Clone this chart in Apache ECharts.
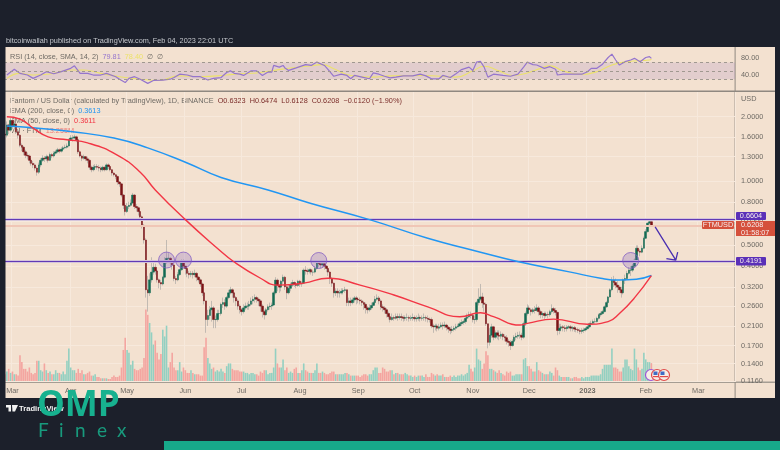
<!DOCTYPE html>
<html><head><meta charset="utf-8">
<style>html,body{margin:0;padding:0;background:#1c202b}#c{width:780px;height:450px}</style>
<script src="https://cdn.jsdelivr.net/npm/echarts@6/dist/echarts.min.js"></script></head>
<body><div id="c"></div>
<script>
const dayCount = 389;
const startDate = '2022-02-25';
const monthIdx = [4,35,65,96,126,157,188,218,249,279,310,341,369];
const monthLabels = ['Mar','Apr','May','Jun','Jul','Aug','Sep','Oct','Nov','Dec','2023','Feb','Mar'];
const priceTicks = [2,1.6,1.3,1,0.8,0.65,0.5,0.4,0.32,0.26,0.21,0.17,0.14,0.116];
const rsiTicks = [40,80];
const firstOpen = 1.66;
const closes = [1.64,1.83,1.73,1.92,1.82,1.85,1.70,1.64,1.47,1.44,
1.37,1.32,1.31,1.25,1.21,1.19,1.15,1.10,1.19,1.25,
1.28,1.27,1.30,1.25,1.33,1.31,1.35,1.37,1.40,1.38,
1.41,1.43,1.44,1.46,1.56,1.59,1.59,1.61,1.56,1.37,
1.31,1.28,1.30,1.27,1.25,1.16,1.13,1.16,1.17,1.16,
1.15,1.13,1.16,1.13,1.19,1.17,1.13,1.09,1.07,1.05,
.99,.97,.86,.77,.72,.76,.77,.79,.86,.76,
.75,.72,.68,.62,.53,.31,.30,.345,.375,.395,
.38,.345,.335,.33,.355,.42,.435,.435,.415,.405,
.35,.345,.365,.385,.42,.40,.39,.37,.365,.37,
.365,.37,.355,.345,.33,.30,.275,.225,.235,.25,
.255,.225,.225,.24,.24,.265,.27,.26,.285,.30,
.31,.30,.285,.275,.26,.25,.245,.255,.26,.26,
.265,.275,.28,.285,.28,.275,.26,.245,.237,.25,
.258,.26,.263,.30,.344,.325,.319,.34,.355,.32,
.30,.315,.326,.335,.33,.325,.34,.33,.333,.383,
.38,.378,.385,.375,.375,.39,.414,.41,.405,.41,
.40,.39,.375,.35,.333,.30,.305,.30,.30,.305,
.308,.31,.27,.275,.27,.278,.284,.28,.278,.275,
.27,.265,.255,.25,.255,.262,.27,.28,.284,.275,
.258,.255,.25,.24,.232,.225,.23,.228,.232,.23,
.232,.23,.228,.23,.23,.228,.229,.23,.227,.228,
.23,.228,.229,.23,.228,.226,.225,.21,.208,.21,
.205,.208,.212,.21,.212,.207,.203,.20,.202,.205,
.208,.21,.215,.218,.22,.228,.232,.237,.235,.225,
.225,.27,.28,.287,.269,.265,.215,.176,.19,.208,
.186,.195,.19,.188,.192,.187,.185,.178,.176,.17,
.178,.186,.188,.19,.19,.186,.215,.24,.255,.25,
.245,.25,.248,.255,.245,.237,.24,.235,.238,.237,
.245,.253,.248,.243,.20,.205,.208,.206,.204,.207,
.208,.205,.206,.203,.202,.20,.198,.20,.201,.204,
.208,.215,.216,.22,.22,.228,.237,.24,.245,.258,
.27,.287,.31,.344,.335,.326,.319,.31,.30,.344,
.35,.37,.383,.383,.40,.427,.485,.47,.465,.485,
.54,.58,.635,.645,.6208];
const highs = [1.72,1.90,1.85,1.97,1.95,1.92,1.86,1.72,1.66,1.50,
1.46,1.40,1.36,1.33,1.28,1.24,1.21,1.17,1.22,1.28,
1.32,1.31,1.33,1.32,1.36,1.35,1.38,1.40,1.43,1.42,
1.44,1.46,1.48,1.50,1.58,1.64,1.64,1.65,1.63,1.57,
1.39,1.33,1.33,1.31,1.30,1.27,1.18,1.19,1.20,1.20,
1.19,1.17,1.18,1.17,1.21,1.21,1.18,1.14,1.10,1.08,
1.06,1.00,.98,.87,.79,.79,.80,.82,.88,.87,
.78,.76,.73,.69,.63,.54,.36,.37,.44,.42,
.41,.385,.35,.345,.36,.44,.53,.46,.44,.42,
.41,.36,.375,.39,.43,.43,.40,.39,.38,.38,
.38,.385,.375,.36,.35,.335,.305,.275,.25,.26,
.275,.26,.235,.25,.25,.27,.285,.28,.29,.31,
.32,.315,.30,.29,.28,.265,.255,.265,.27,.27,
.275,.285,.29,.295,.29,.285,.28,.265,.25,.255,
.265,.27,.27,.305,.355,.35,.33,.345,.365,.36,
.325,.325,.335,.345,.34,.335,.345,.345,.34,.39,
.40,.39,.39,.39,.385,.40,.425,.425,.42,.42,
.42,.405,.395,.38,.355,.335,.315,.315,.31,.315,
.315,.32,.31,.285,.285,.285,.29,.29,.285,.285,
.28,.275,.27,.26,.265,.27,.275,.29,.295,.29,
.28,.265,.26,.255,.245,.24,.24,.235,.24,.24,
.24,.24,.235,.235,.24,.235,.235,.24,.235,.235,
.24,.235,.235,.24,.235,.235,.23,.23,.215,.215,
.215,.215,.218,.218,.22,.215,.21,.208,.21,.21,
.215,.215,.22,.225,.225,.235,.24,.245,.245,.24,
.235,.275,.315,.33,.30,.28,.27,.215,.205,.215,
.21,.20,.20,.20,.198,.195,.192,.19,.182,.18,
.182,.19,.195,.197,.198,.195,.22,.245,.265,.262,
.255,.255,.26,.265,.26,.25,.245,.245,.245,.245,
.25,.265,.258,.255,.245,.215,.215,.212,.212,.212,
.212,.212,.21,.21,.208,.206,.204,.205,.206,.208,
.213,.218,.222,.225,.228,.232,.24,.245,.25,.262,
.275,.29,.315,.355,.36,.35,.34,.325,.32,.35,
.365,.38,.395,.40,.41,.435,.50,.50,.48,.50,
.55,.595,.64,.67,.6474];
const lows = [1.55,1.60,1.66,1.70,1.75,1.75,1.66,1.58,1.44,1.38,
1.32,1.28,1.26,1.21,1.18,1.15,1.12,1.06,1.08,1.16,
1.23,1.23,1.24,1.22,1.24,1.28,1.29,1.33,1.35,1.35,
1.36,1.39,1.41,1.42,1.44,1.54,1.53,1.57,1.52,1.34,
1.29,1.24,1.26,1.24,1.21,1.13,1.10,1.11,1.13,1.13,
1.11,1.10,1.11,1.11,1.12,1.14,1.11,1.06,1.05,1.02,
.96,.94,.84,.74,.69,.71,.74,.76,.78,.74,
.72,.69,.66,.60,.51,.285,.245,.29,.335,.365,
.365,.335,.315,.31,.325,.35,.41,.42,.40,.385,
.34,.33,.34,.36,.38,.39,.365,.355,.35,.355,
.35,.355,.34,.335,.32,.29,.265,.195,.21,.225,
.22,.205,.205,.22,.225,.235,.255,.25,.255,.28,
.295,.285,.27,.26,.25,.24,.235,.24,.25,.25,
.25,.26,.265,.27,.27,.26,.245,.23,.225,.235,
.245,.25,.25,.26,.295,.305,.30,.305,.33,.31,
.28,.295,.305,.32,.32,.315,.32,.32,.32,.33,
.365,.365,.37,.365,.36,.37,.385,.395,.39,.395,
.385,.375,.36,.33,.32,.285,.29,.285,.285,.295,
.295,.30,.26,.26,.26,.265,.27,.265,.268,.265,
.26,.25,.24,.24,.245,.25,.26,.265,.275,.265,
.25,.245,.24,.23,.225,.218,.222,.222,.225,.222,
.225,.222,.22,.222,.222,.22,.222,.222,.22,.22,
.222,.22,.222,.222,.22,.218,.218,.205,.195,.20,
.198,.20,.205,.202,.205,.20,.195,.192,.195,.198,
.20,.205,.208,.21,.213,.215,.225,.228,.228,.218,
.215,.22,.262,.275,.255,.245,.21,.165,.17,.185,
.18,.183,.182,.18,.183,.18,.178,.172,.168,.162,
.168,.175,.18,.183,.183,.18,.183,.21,.235,.24,
.235,.24,.24,.245,.235,.228,.228,.225,.23,.228,
.232,.24,.24,.235,.19,.192,.198,.198,.197,.198,
.203,.198,.198,.197,.196,.195,.192,.193,.195,.198,
.202,.205,.21,.213,.215,.218,.225,.232,.237,.243,
.255,.268,.285,.305,.32,.315,.30,.30,.285,.295,
.33,.345,.365,.36,.375,.395,.425,.45,.445,.46,
.48,.535,.575,.625,.6128];
const volumes = [5,7,9,6,7,5,5,4,19,14,
9,9,7,10,6,5,6,15,15,8,
7,13,8,6,7,5,5,8,6,6,
5,7,5,15,24,10,8,8,6,9,
6,8,5,5,6,7,4,4,5,3,
3,2,2,2,2,1.5,1.5,3,4,3,
3,4,10,23,32,23,21,12,15,9,
8,8,9,10,17,53,49,43,36,27,
30,21,16,20,38,33,41,10,14,21,
10,8,8,14,7,10,8,6,6,8,
6,5,5,5,4,4,25,32,17,13,
9,10,7,8,7,9,7,6,11,13,
13,9,8,8,8,7,7,7,6,6,
5,6,6,5,5,4,7,6,8,8,
5,6,6,10,24,13,10,10,16,8,
10,6,7,6,9,10,6,6,8,13,
8,7,6,6,6,8,13,6,6,7,
6,5,5,6,7,7,5,5,5,5,
5,6,6,5,4,4,4,4,4,3,
4,5,5,4,5,5,8,10,10,6,
6,10,9,7,7,8,8,5,6,6,
5,5,5,6,5,4,4,3,4,3,
4,4,4,3,5,3,3,6,5,4,
5,4,4,5,3,3,3,4,3,4,
3,4,4,5,4,5,6,12,9,7,
10,24,16,15,9,13,22,19,9,9,
8,7,6,8,6,5,4,7,6,7,
4,4,5,5,5,5,16,17,11,11,
9,7,7,14,8,7,6,5,5,5,
7,6,4,10,8,4,3,3,3,3,
3,2,2,3,3,2,2,3,2,3,
3,3,4,4,4,4,4,5,9,12,
12,12,12,24,10,10,9,7,7,10,
16,16,11,9,8,24,16,10,8,9,
21,16,14,14,13.255];
const ema200 = [[1,1.81],[15,1.775],[36,1.70],[58,1.59],[76,1.43],[97,1.215],[115,1.04],[140,.909],[162,.79],[194,.66],[225,.54],[249,.475],[274,.418],[301,.375],[317,.351],[327,.344],[336,.347],[344,.3613]];
const sma50 = [[1,2.0],[8,1.95],[15,1.77],[23,1.61],[33,1.56],[44,1.51],[60,1.32],[72,1.10],[80,.909],[96,.66],[113,.485],[122,.418],[136,.351],[145,.326],[159,.333],[172,.351],[189,.326],[207,.293],[225,.258],[242,.232],[253,.242],[260,.232],[274,.212],[278,.216],[292,.226],[310,.214],[321,.22],[327,.24],[335,.284],[344,.3611]];
const rsiLine = [[1,40],[5,54],[8,44],[12,40],[15,32],[19,40],[22,48],[26,43],[30,48],[35,56],[37,62],[40,44],[44,44],[47,40],[51,40],[54,44],[59,36],[61,30],[64,22],[66,32],[69,36],[72,30],[76,20],[79,27],[84,28],[88,30],[90,34],[93,42],[97,40],[100,36],[104,36],[108,28],[111,32],[115,34],[118,46],[120,50],[122,44],[125,42],[127,39],[131,50],[134,50],[137,39],[140,47],[142,47],[143,63],[146,59],[148,63],[149,57],[151,51],[155,57],[160,65],[163,63],[166,71],[170,63],[172,53],[175,37],[179,42],[182,39],[184,31],[186,39],[190,35],[194,31],[196,45],[199,42],[202,37],[205,33],[208,35],[212,38],[217,38],[221,42],[224,38],[227,31],[231,31],[233,39],[237,34],[240,43],[243,53],[247,59],[249,51],[251,71],[253,73],[255,59],[257,35],[260,42],[265,39],[269,37],[273,42],[276,59],[278,71],[281,65],[283,64],[287,56],[290,60],[293,54],[294,40],[297,42],[302,42],[307,42],[310,48],[312,56],[315,56],[318,66],[321,82],[323,90],[325,76],[327,64],[330,72],[333,76],[334,72],[335,80],[338,72],[341,82],[343,84],[344,79.81]];
const rsiSma = [[1,32],[8,44],[15,40],[26,44],[35,52],[42,52],[51,44],[61,36],[72,30],[81,27],[93,38],[104,36],[118,40],[125,43],[134,45],[143,51],[152,57],[161,61],[169,65],[175,55],[184,39],[196,35],[205,38],[223,39],[240,35],[249,50],[255,61],[263,50],[270,39],[278,45],[285,56],[290,62],[297,50],[306,42],[315,48],[323,64],[331,72],[343,76],[344,78.40]];
const levelValues = [0.6604,0.4191];
const lastPrice = 0.6208;
const rsiLevels = [70,50,30];
const circleMarks = [[86,.427],[95,.427],[167,.425],[333,.425]];
const arrowPath = [[346,.61],[357,.427],[358,.465],[357,.427],[352,.434]];

const categories = [];
{ const d0 = Date.parse(startDate+'T00:00:00Z');
  for (let i=0;i<dayCount;i++) categories.push(new Date(d0+i*864e5).toISOString().slice(0,10)); }
const opens = closes.map((c,i)=> i? closes[i-1] : firstOpen);
const UP='#126a52', DOWN='#7a1316', UPV='#93d0c1', DOWNV='#f4a5a0';
const isUp = i => closes[i]>=opens[i];
const wickData = closes.map((c,i)=>[opens[i],c,lows[i],highs[i]]);
const bodyData = closes.map((c,i)=>[opens[i],c,Math.min(opens[i],c),Math.max(opens[i],c)]);
const volData = volumes.map((v,i)=>({value:v,itemStyle:{color:isUp(i)?UPV:DOWNV}}));

const FONT='"Liberation Sans",Arial,sans-serif';
const FS=7.3, LBL='#6e6a64';
const monthFilter = i => monthIdx.includes(i);
const xBase = {type:'category',data:categories,boundaryGap:true,
  axisLine:{show:false},axisTick:{show:false,alignWithLabel:true},axisLabel:{show:false},splitLine:{show:false}};
const gridLeft=4, gridWidth=731;

const txt=(x,y,text,size,fill,extra)=>({type:'text',z:-5,x,y,style:Object.assign({text,fontSize:size,fill,fontFamily:FONT,verticalAlign:'middle'},extra||{})});
const box=(x,y,w,h,fill,text,sz)=>({type:'text',z:120,x:x+w/2,y:y+h/2,style:{text,fill:'#f6ecec',fontSize:sz||FS,fontFamily:FONT,align:'center',verticalAlign:'middle',backgroundColor:fill,width:w,height:h,lineHeight:h,borderRadius:1}});
const rich={
 g:{fill:LBL,fontSize:FS,fontFamily:FONT},
 p:{fill:'#9575cd',fontSize:FS,fontFamily:FONT},
 y:{fill:'#ece26a',fontSize:FS,fontFamily:FONT},
 b:{fill:'#2196f3',fontSize:FS,fontFamily:FONT},
 r:{fill:'#f23645',fontSize:FS,fontFamily:FONT},
 v:{fill:'#ef7d78',fontSize:FS,fontFamily:FONT},
 d:{fill:'#7b2d2a',fontSize:FS,fontFamily:FONT}
};
const richText=(x,y,text)=>({type:'text',z:-5,x,y,style:{text,rich,verticalAlign:'middle',fontFamily:FONT}});
const finex=[['F',38],['i',59],['n',75],['e',97],['x',117]];

const graphic=[
 {type:'rect',z:-10,shape:{x:5,y:47,width:770,height:351},style:{fill:'#f3e1d0'}},
 {type:'rect',z:100,shape:{x:0,y:47,width:5.5,height:351},style:{fill:'#1c202b'}},
 {type:'rect',z:-9,shape:{x:5,y:90.5,width:770,height:1.5},style:{fill:'#8f8880'}},
 {type:'rect',z:-9,shape:{x:5,y:381.5,width:770,height:1.5},style:{fill:'#a59d93'}},
 {type:'rect',z:-9,shape:{x:734.6,y:47,width:1,height:351},style:{fill:'#8f8880'}},
 txt(6,41,'bitcoinwallah published on TradingView.com, Feb 04, 2023 22:01 UTC',7.3,'#c4c7cc'),
 richText(10,56.5,'{g|RSI (14, close, SMA, 14, 2)  }{p|79.81}{y|  78.40}{g|  ∅  ∅}'),
 richText(10,101,'{g|Fantom / US Dollar (calculated by TradingView), 1D, BINANCE  }{d|O0.6323  H0.6474  L0.6128  C0.6208  −0.0120 (−1.90%)}'),
 richText(10,110.7,'{g|EMA (200, close, 0)  }{b|0.3613}'),
 richText(10,120.7,'{g|SMA (50, close, 0)  }{r|0.3611}'),
 richText(10,130.5,'{g|Vol · FTM  }{v|13.255M}'),
 txt(741,99,'USD',FS,LBL),
 box(736,212,30,8,'#5a30b8','0.6604'),
 box(736,257,30,8.5,'#5a30b8','0.4191'),
 box(702,221,32,8,'#d5503b','FTMUSD',FS),
 {type:'rect',z:119,shape:{x:736,y:221,width:39,height:15},style:{fill:'#d5503b'}},
 {type:'text',z:120,x:741,y:225,style:{text:'0.6208',fill:'#f6ecec',fontSize:FS,fontFamily:FONT,verticalAlign:'middle'}},
 {type:'text',z:120,x:741,y:232.5,style:{text:'01:58:07',fill:'#f6ecec',fontSize:FS,fontFamily:FONT,verticalAlign:'middle'}},
 {type:'circle',z:110,shape:{cx:651,cy:375,r:5.5},style:{fill:'#f7eee6',stroke:'#9c56d8',lineWidth:1.2}},
 {type:'circle',z:111,shape:{cx:657,cy:375,r:5.5},style:{fill:'#f7eee6',stroke:'#e04a4a',lineWidth:1.2}},
 {type:'rect',z:112,shape:{x:653.5,y:371.5,width:4,height:3.5},style:{fill:'#3f6cc4'}},
 {type:'rect',z:112,shape:{x:653,y:376,width:8,height:1.2},style:{fill:'#e04a4a'}},
 {type:'circle',z:113,shape:{cx:664,cy:375,r:5.5},style:{fill:'#f7eee6',stroke:'#e04a4a',lineWidth:1.2}},
 {type:'rect',z:114,shape:{x:660.5,y:371.5,width:4,height:3.5},style:{fill:'#3f6cc4'}},
 {type:'rect',z:114,shape:{x:660,y:376,width:8,height:1.2},style:{fill:'#e04a4a'}},
 {type:'polygon',z:130,shape:{points:[[6,405],[11,405],[11,411.5],[8.5,411.5],[8.5,407.5],[6,407.5]]},style:{fill:'#f2f2f2'}},
 {type:'polygon',z:130,shape:{points:[[12,405],[18,405],[15,411.5],[12.5,411.5]]},style:{fill:'#f2f2f2'}},
 {type:'text',z:130,x:19,y:408.5,style:{text:'TradingView',fill:'#f2f2f2',fontSize:7.6,fontWeight:'bold',fontFamily:FONT,verticalAlign:'middle'}},
 {type:'text',z:140,x:37,y:406,style:{text:'OMP',fill:'#17b18f',fontSize:35,fontWeight:'bold',fontFamily:'"Open Sans",'+FONT,verticalAlign:'middle'}},
 ...finex.map(f=>({type:'text',z:140,x:f[1],y:430.5,style:{text:f[0],fill:'#189a7d',fontSize:19,fontFamily:'Lato,'+FONT,verticalAlign:'middle'}})),
 {type:'rect',z:140,shape:{x:164,y:441,width:616,height:9},style:{fill:'#17a98a'}}
];

const option={
 animation:false,backgroundColor:'#1c202b',
 graphic:graphic,
 grid:[
  {left:gridLeft,width:gridWidth,top:47,height:44},
  {left:gridLeft,width:gridWidth,top:92,height:290},
  {left:gridLeft,width:gridWidth,top:300,height:81}
 ],
 xAxis:[
  Object.assign({},xBase,{gridIndex:0}),
  Object.assign({},xBase,{gridIndex:1,
    splitLine:{show:true,interval:i=>monthFilter(i),lineStyle:{color:'#f7e9dc',width:1}},
    axisLabel:{show:true,interval:i=>monthFilter(i),margin:5,fontSize:FS,color:LBL,fontFamily:FONT,
      hideOverlap:false,
      formatter:(v,i)=>{const t=monthLabels[monthIdx.indexOf(i)];return t==='2023'?'{b|2023}':t;},
      rich:{b:{fontSize:FS,fontWeight:'bold',color:LBL,fontFamily:FONT}}}}),
  Object.assign({},xBase,{gridIndex:2})
 ],
 yAxis:[
  {gridIndex:0,type:'value',position:'right',min:1.7,max:107.2,
   axisLine:{show:false},axisTick:{show:false},splitLine:{show:false},
   axisLabel:{customValues:rsiTicks,fontSize:FS,margin:6,color:LBL,fontFamily:FONT,formatter:v=>v.toFixed(2)}},
  {gridIndex:1,type:'log',logBase:10,position:'right',min:0.1148,max:2.61,
   axisLine:{show:false},
   axisTick:{show:false,customValues:priceTicks},
   splitLine:{show:true,lineStyle:{color:'#f7e9dc',width:1}},
   minorSplitLine:{show:false},
   axisLabel:{customValues:priceTicks,fontSize:FS,margin:6,color:LBL,fontFamily:FONT,formatter:v=>(+v).toFixed(4)}},
  {gridIndex:2,type:'value',min:0,max:60,show:false}
 ],
 series:[
  {type:'line',name:'RSI',xAxisIndex:0,yAxisIndex:0,data:rsiLine,showSymbol:false,z:4,
   lineStyle:{color:'#9575cd',width:1.2},
   markArea:{silent:true,itemStyle:{color:'rgba(126,87,194,0.14)'},data:[[{yAxis:30},{yAxis:70}]]},
   markLine:{silent:true,symbol:'none',label:{show:false},
     lineStyle:{color:'#a09890',type:[3,3],width:1},data:rsiLevels.map(v=>({yAxis:v}))}},
  {type:'line',name:'RSI SMA',xAxisIndex:0,yAxisIndex:0,data:rsiSma,smooth:true,showSymbol:false,z:3,
   lineStyle:{color:'#ece26a',width:1.1}},
  {type:'bar',name:'Vol',xAxisIndex:2,yAxisIndex:2,data:volData,barWidth:1.6,z:2},
  {type:'candlestick',name:'wick',xAxisIndex:1,yAxisIndex:1,data:wickData,barWidth:0.6,z:3,
   itemStyle:{color:'#b5b0aa',color0:'#b5b0aa',borderColor:'#b5b0aa',borderColor0:'#b5b0aa',borderWidth:0.8}},
  {type:'candlestick',name:'FTMUSD',xAxisIndex:1,yAxisIndex:1,data:bodyData,barWidth:2,z:4,
   itemStyle:{color:UP,color0:DOWN,borderColor:UP,borderColor0:DOWN,borderWidth:0.5},
   markLine:{silent:true,symbol:'none',label:{show:false},animation:false,
    data:[
      {yAxis:lastPrice,lineStyle:{color:'#f0c6b6',width:2,type:'solid'}},
      ...levelValues.map(v=>({yAxis:v,lineStyle:{color:'#fbf3e8',width:3.2,type:'solid'}})),
      ...levelValues.map(v=>({yAxis:v,lineStyle:{color:'#6139b5',width:1.3,type:'solid'}}))
    ]}},
  {type:'line',name:'EMA 200',xAxisIndex:1,yAxisIndex:1,data:ema200,smooth:true,showSymbol:false,z:5,
   lineStyle:{color:'#2196f3',width:1.5}},
  {type:'line',name:'SMA 50',xAxisIndex:1,yAxisIndex:1,data:sma50,smooth:true,showSymbol:false,z:5,
   lineStyle:{color:'#f23645',width:1.4}},
  {type:'scatter',name:'marks',xAxisIndex:1,yAxisIndex:1,data:circleMarks,symbolSize:16,z:6,
   itemStyle:{color:'rgba(124,92,190,0.33)',borderColor:'#7e57c2',borderWidth:0.9}},
  {type:'line',name:'arrow',xAxisIndex:1,yAxisIndex:1,data:arrowPath,showSymbol:false,z:7,
   lineStyle:{color:'#4a2fb0',width:1.3}}
 ]
};
const chart=echarts.init(document.getElementById('c'),null,{renderer:'canvas'});
chart.setOption(option);
</script></body></html>
